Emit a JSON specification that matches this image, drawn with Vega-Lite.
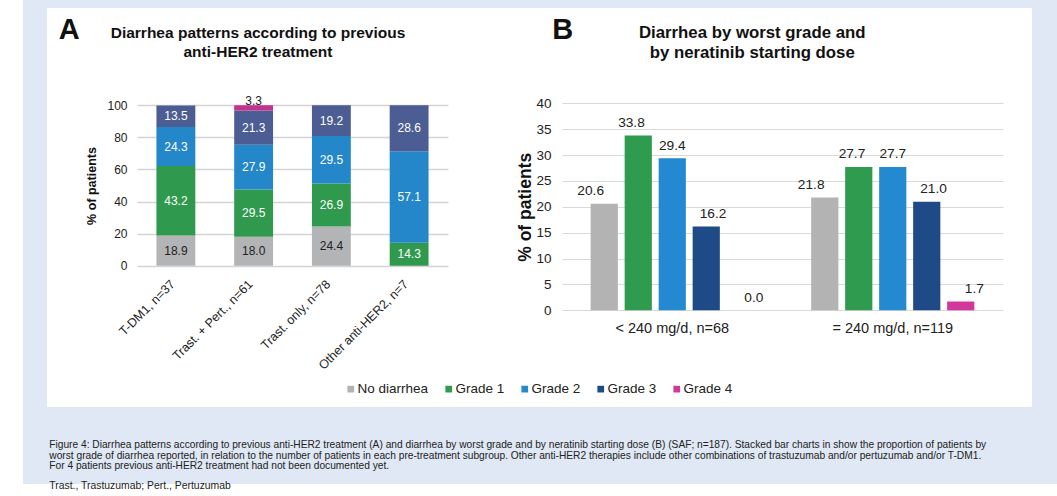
{
  "$schema": "https://vega.github.io/schema/vega-lite/v6.json",
  "background": "white",
  "padding": {"left": 23, "top": 0, "right": 0, "bottom": 12},
  "spacing": 0,
  "bounds": "flush",
  "columns": 3,
  "config": {
    "font": "Liberation Sans",
    "view": {"stroke": null, "fill": "white"},
    "axis": {"labelColor": "#222222", "titleColor": "#111111"}
  },
  "resolve": {"scale": {"color": "independent"}, "legend": {"color": "independent"}},
  "datasets": {
    "treat": [
      {"treatment": "T-DM1, n=37", "grade": "No diarrhea", "severity": 0, "value": 18.9},
      {"treatment": "T-DM1, n=37", "grade": "Grade 1", "severity": 1, "value": 43.2},
      {"treatment": "T-DM1, n=37", "grade": "Grade 2", "severity": 2, "value": 24.3},
      {"treatment": "T-DM1, n=37", "grade": "Grade 3", "severity": 3, "value": 13.5},
      {"treatment": "T-DM1, n=37", "grade": "Grade 4", "severity": 4, "value": 0},
      {"treatment": "Trast. + Pert., n=61", "grade": "No diarrhea", "severity": 0, "value": 18.0},
      {"treatment": "Trast. + Pert., n=61", "grade": "Grade 1", "severity": 1, "value": 29.5},
      {"treatment": "Trast. + Pert., n=61", "grade": "Grade 2", "severity": 2, "value": 27.9},
      {"treatment": "Trast. + Pert., n=61", "grade": "Grade 3", "severity": 3, "value": 21.3},
      {"treatment": "Trast. + Pert., n=61", "grade": "Grade 4", "severity": 4, "value": 3.3},
      {"treatment": "Trast. only, n=78", "grade": "No diarrhea", "severity": 0, "value": 24.4},
      {"treatment": "Trast. only, n=78", "grade": "Grade 1", "severity": 1, "value": 26.9},
      {"treatment": "Trast. only, n=78", "grade": "Grade 2", "severity": 2, "value": 29.5},
      {"treatment": "Trast. only, n=78", "grade": "Grade 3", "severity": 3, "value": 19.2},
      {"treatment": "Trast. only, n=78", "grade": "Grade 4", "severity": 4, "value": 0},
      {"treatment": "Other anti-HER2, n=7", "grade": "No diarrhea", "severity": 0, "value": 0},
      {"treatment": "Other anti-HER2, n=7", "grade": "Grade 1", "severity": 1, "value": 14.3},
      {"treatment": "Other anti-HER2, n=7", "grade": "Grade 2", "severity": 2, "value": 57.1},
      {"treatment": "Other anti-HER2, n=7", "grade": "Grade 3", "severity": 3, "value": 28.6},
      {"treatment": "Other anti-HER2, n=7", "grade": "Grade 4", "severity": 4, "value": 0}
    ],
    "dose": [
      {"dose": "< 240 mg/d, n=68", "grade": "No diarrhea", "value": 20.6},
      {"dose": "< 240 mg/d, n=68", "grade": "Grade 1", "value": 33.8},
      {"dose": "< 240 mg/d, n=68", "grade": "Grade 2", "value": 29.4},
      {"dose": "< 240 mg/d, n=68", "grade": "Grade 3", "value": 16.2},
      {"dose": "< 240 mg/d, n=68", "grade": "Grade 4", "value": 0.0},
      {"dose": "= 240 mg/d, n=119", "grade": "No diarrhea", "value": 21.8},
      {"dose": "= 240 mg/d, n=119", "grade": "Grade 1", "value": 27.7},
      {"dose": "= 240 mg/d, n=119", "grade": "Grade 2", "value": 27.7},
      {"dose": "= 240 mg/d, n=119", "grade": "Grade 3", "value": 21.0},
      {"dose": "= 240 mg/d, n=119", "grade": "Grade 4", "value": 1.7}
    ],
    "empty": []
  },
  "concat": [
    {"width": 24, "height": 8, "view": {"fill": "#dfe8f4", "stroke": null}, "data": {"name": "empty"}, "mark": "rect", "encoding": {}},
    {"width": 985, "height": 8, "view": {"fill": "#dfe8f4", "stroke": null}, "data": {"name": "empty"}, "mark": "rect", "encoding": {}},
    {"width": 25, "height": 8, "view": {"fill": "#dfe8f4", "stroke": null}, "data": {"name": "empty"}, "mark": "rect", "encoding": {}},
    {"width": 24, "height": 399, "view": {"fill": "#dfe8f4", "stroke": null}, "data": {"name": "empty"}, "mark": "rect", "encoding": {}},
    {
      "width": 985,
      "height": 399,
      "view": {"fill": "white", "stroke": null},
      "resolve": {
        "scale": {"x": "independent", "y": "independent", "color": "independent", "xOffset": "independent"},
        "axis": {"x": "independent", "y": "independent"},
        "legend": {"color": "independent"}
      },
      "layer": [
        {
          "data": {"name": "treat"},
          "mark": {"type": "bar"},
          "encoding": {
            "x": {
              "field": "treatment", "type": "nominal",
              "scale": {"domain": ["T-DM1, n=37", "Trast. + Pert., n=61", "Trast. only, n=78", "Other anti-HER2, n=7"], "range": [90, 401], "paddingInner": 0.5, "paddingOuter": 0.25},
              "axis": {"orient": "bottom", "offset": -141.3, "title": null, "domain": false, "ticks": false, "grid": false, "labelAngle": -45, "labelAlign": "right", "labelBaseline": "middle", "labelFontSize": 12.5, "labelPadding": 16, "labelOffset": -3, "labelLimit": 300}
            },
            "y": {
              "field": "value", "type": "quantitative", "stack": "zero",
              "scale": {"domain": [0, 100], "range": [257.7, 97.3], "nice": false},
              "axis": {"orient": "left", "offset": -90, "values": [0, 20, 40, 60, 80, 100], "domain": false, "ticks": false, "grid": true, "gridColor": "#d4d4d4", "gridWidth": 1.6, "labelFontSize": 12, "labelPadding": 10, "title": "% of patients", "titleFontSize": 12.5, "titleFontWeight": "bold", "titlePadding": 8}
            },
            "color": {
              "field": "grade", "type": "nominal",
              "scale": {"domain": ["No diarrhea", "Grade 1", "Grade 2", "Grade 3", "Grade 4"], "range": ["#b2b4b6", "#2f9a4d", "#2387c9", "#4b5d93", "#c3338d"]},
              "legend": null
            },
            "order": {"field": "severity", "type": "quantitative", "sort": "ascending"}
          }
        },
        {
          "data": {"name": "treat"},
          "transform": [{"filter": "datum.value > 0 && datum.grade !== 'Grade 4'"}],
          "mark": {"type": "text", "baseline": "middle", "fontSize": 12},
          "encoding": {
            "x": {
              "field": "treatment", "type": "nominal",
              "scale": {"domain": ["T-DM1, n=37", "Trast. + Pert., n=61", "Trast. only, n=78", "Other anti-HER2, n=7"], "range": [90, 401], "paddingInner": 0.5, "paddingOuter": 0.25},
              "axis": {"orient": "top", "labels": false, "ticks": false, "domain": false, "grid": false, "title": ["Diarrhea patterns according to previous", "anti-HER2 treatment"], "titleFontSize": 15.5, "titleFontWeight": "bold", "titleX": 210.5, "titleY": 29.5, "titleAlign": "center", "titleBaseline": "alphabetic", "titleLineHeight": 19.4, "titleAngle": 0}
            },
            "y": {
              "field": "value", "type": "quantitative", "stack": "zero", "bandPosition": 0.5,
              "scale": {"domain": [0, 100], "range": [257.7, 97.3], "nice": false},
              "axis": {"orient": "right", "labels": false, "ticks": false, "domain": false, "grid": false, "title": "A", "titleAngle": 0, "titleFontSize": 29, "titleFontWeight": "bold", "titleX": -973.7, "titleY": 30.3, "titleAlign": "left", "titleBaseline": "alphabetic"}
            },
            "detail": {"field": "grade", "type": "nominal"},
            "order": {"field": "severity", "type": "quantitative", "sort": "ascending"},
            "text": {"field": "value", "type": "quantitative", "format": ".1f"},
            "color": {"condition": {"test": "datum.grade === 'No diarrhea'", "value": "#222222"}, "value": "white"}
          }
        },
        {
          "data": {"name": "treat"},
          "transform": [
            {"stack": "value", "groupby": ["treatment"], "sort": [{"field": "severity", "order": "ascending"}], "as": ["v0", "v1"]},
            {"filter": "datum.grade === 'Grade 4' && datum.value > 0"}
          ],
          "mark": {"type": "text", "baseline": "alphabetic", "fontSize": 12, "color": "#222222", "dy": 0},
          "encoding": {
            "x": {
              "field": "treatment", "type": "nominal",
              "scale": {"domain": ["T-DM1, n=37", "Trast. + Pert., n=61", "Trast. only, n=78", "Other anti-HER2, n=7"], "range": [90, 401], "paddingInner": 0.5, "paddingOuter": 0.25},
              "axis": null
            },
            "y": {
              "field": "v1", "type": "quantitative",
              "scale": {"domain": [0, 100], "range": [257.7, 97.3], "nice": false},
              "axis": null
            },
            "text": {"field": "value", "type": "quantitative", "format": ".1f"}
          }
        },
        {
          "data": {"name": "dose"},
          "mark": {"type": "bar"},
          "encoding": {
            "x": {
              "field": "dose", "type": "nominal",
              "scale": {"domain": ["< 240 mg/d, n=68", "= 240 mg/d, n=119"], "range": [515, 956], "paddingInner": 0.26, "paddingOuter": 0.13},
              "axis": {"orient": "bottom", "offset": -96.7, "title": null, "domain": false, "ticks": false, "grid": false, "labelAngle": 0, "labelFontSize": 14.5, "labelPadding": 11, "labelLimit": 300}
            },
            "xOffset": {
              "field": "grade", "type": "nominal",
              "scale": {"domain": ["No diarrhea", "Grade 1", "Grade 2", "Grade 3", "Grade 4"], "paddingInner": 0.2, "paddingOuter": 0}
            },
            "y": {
              "field": "value", "type": "quantitative",
              "scale": {"domain": [0, 40], "range": [302.3, 95.3], "nice": false},
              "axis": {"orient": "left", "offset": -515, "values": [0, 5, 10, 15, 20, 25, 30, 35, 40], "domain": false, "ticks": false, "grid": true, "gridColor": "#d9d9d9", "gridWidth": 1, "labelFontSize": 13.5, "labelPadding": 11, "title": "% of patients", "titleFontSize": 17.5, "titleFontWeight": "bold", "titlePadding": 1}
            },
            "color": {
              "field": "grade", "type": "nominal",
              "scale": {"domain": ["No diarrhea", "Grade 1", "Grade 2", "Grade 3", "Grade 4"], "range": ["#b3b3b3", "#2e9b4e", "#2389d0", "#1f4a88", "#d2389b"]},
              "legend": {"orient": "none", "legendX": 297, "legendY": 374, "direction": "horizontal", "columns": 5, "title": null, "symbolType": "square", "symbolSize": 45, "symbolStrokeWidth": 0, "labelFontSize": 13.5, "labelOffset": 0, "columnPadding": 13, "padding": 0, "labelColor": "#222222"}
            }
          }
        },
        {
          "data": {"name": "dose"},
          "mark": {"type": "text", "baseline": "alphabetic", "fontSize": 13.7, "color": "#222222", "dy": -8.5},
          "encoding": {
            "x": {
              "field": "dose", "type": "nominal",
              "scale": {"domain": ["< 240 mg/d, n=68", "= 240 mg/d, n=119"], "range": [515, 956], "paddingInner": 0.26, "paddingOuter": 0.13},
              "axis": {"orient": "top", "labels": false, "ticks": false, "domain": false, "grid": false, "title": ["Diarrhea by worst grade and", "by neratinib starting dose"], "titleFontSize": 16.8, "titleFontWeight": "bold", "titleX": 704.7, "titleY": 29.7, "titleAlign": "center", "titleBaseline": "alphabetic", "titleLineHeight": 20, "titleAngle": 0}
            },
            "xOffset": {
              "field": "grade", "type": "nominal",
              "scale": {"domain": ["No diarrhea", "Grade 1", "Grade 2", "Grade 3", "Grade 4"], "paddingInner": 0.2, "paddingOuter": 0}
            },
            "y": {
              "field": "value", "type": "quantitative",
              "scale": {"domain": [0, 40], "range": [302.3, 95.3], "nice": false},
              "axis": {"orient": "right", "labels": false, "ticks": false, "domain": false, "grid": false, "title": "B", "titleAngle": 0, "titleFontSize": 29, "titleFontWeight": "bold", "titleX": -480.3, "titleY": 30.3, "titleAlign": "left", "titleBaseline": "alphabetic"}
            },
            "text": {"field": "value", "type": "quantitative", "format": ".1f"}
          }
        }
      ]
    },
    {"width": 25, "height": 399, "view": {"fill": "#dfe8f4", "stroke": null}, "data": {"name": "empty"}, "mark": "rect", "encoding": {}},
    {"width": 24, "height": 77, "view": {"fill": "#dfe8f4", "stroke": null}, "data": {"name": "empty"}, "mark": "rect", "encoding": {}},
    {"width": 985, "height": 77, "view": {"fill": "#dfe8f4", "stroke": null}, "data": {"name": "empty"}, "mark": "rect", "encoding": {}},
    {
      "width": 25, "height": 77,
      "view": {"fill": "#dfe8f4", "stroke": null},
      "data": {"name": "empty"},
      "mark": "rect",
      "encoding": {},
      "title": {
        "text": [
          "Figure 4: Diarrhea patterns according to previous anti-HER2 treatment (A) and diarrhea by worst grade and by neratinib starting dose (B) (SAF; n=187). Stacked bar charts in show the proportion of patients by",
          "worst grade of diarrhea reported, in relation to the number of patients in each pre-treatment subgroup. Other anti-HER2 therapies include other combinations of trastuzumab and/or pertuzumab and/or T-DM1.",
          "For 4 patients previous anti-HER2 treatment had not been documented yet."
        ],
        "subtitle": "Trast., Trastuzumab; Pert., Pertuzumab",
        "orient": "bottom",
        "anchor": "start",
        "frame": "group",
        "offset": -44,
        "dx": -982.7,
        "fontSize": 10.2,
        "fontWeight": "normal",
        "lineHeight": 10.6,
        "color": "#222222",
        "limit": 1100,
        "subtitleFontSize": 10.4,
        "subtitleColor": "#222222",
        "subtitlePadding": 10
      }
    }
  ]
}
